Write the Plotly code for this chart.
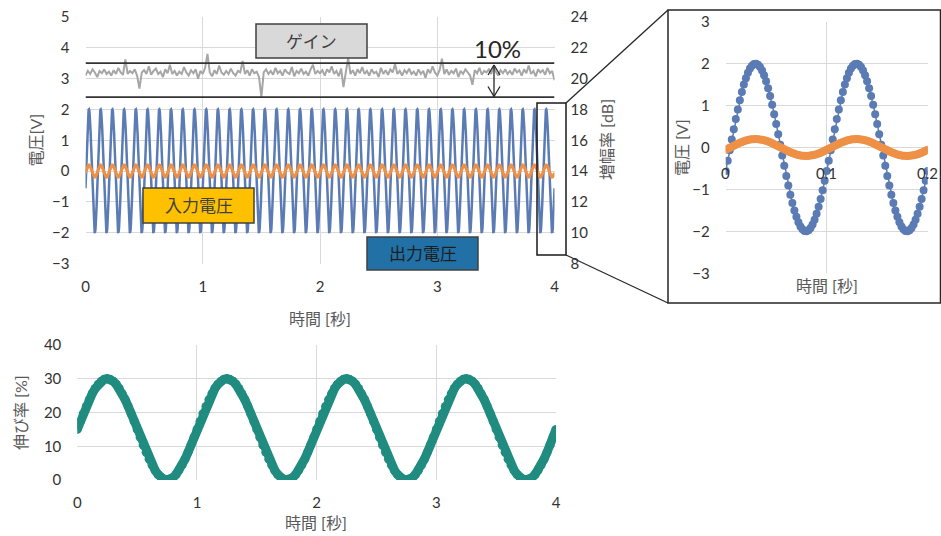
import numpy as np
import plotly.graph_objects as go

W, H = 941, 536
FONT = "Lato, 'Noto Sans CJK JP', sans-serif"
TICK_COLOR = "#333333"
TITLE_COLOR = "#595959"
GRID = "#D9D9D9"

BLUE = "#5B7BB4"
ORANGE = "#EE9046"
GRAY = "#A6A6A6"
TEAL = "#208C80"

# --- one period (0.1 s, sampled every 2 ms) of output / input voltage [V]
output_period = [
    -0.558, -0.313, -0.063, 0.188, 0.436, 0.677, 0.908, 1.124, 1.323, 1.500,
    1.654, 1.782, 1.882, 1.952, 1.991, 1.999, 1.975, 1.920, 1.835, 1.721,
    1.580, 1.414, 1.226, 1.018, 0.794, 0.558, 0.313, 0.063, -0.188, -0.436,
    -0.677, -0.908, -1.124, -1.323, -1.500, -1.654, -1.782, -1.882, -1.952, -1.991,
    -1.999, -1.975, -1.920, -1.835, -1.721, -1.580, -1.414, -1.226, -1.018, -0.794,
]
input_period = [
    -0.056, -0.031, -0.006, 0.019, 0.044, 0.068, 0.091, 0.112, 0.132, 0.150,
    0.165, 0.178, 0.188, 0.195, 0.199, 0.200, 0.198, 0.192, 0.184, 0.172,
    0.158, 0.141, 0.123, 0.102, 0.079, 0.056, 0.031, 0.006, -0.019, -0.044,
    -0.068, -0.091, -0.112, -0.132, -0.150, -0.165, -0.178, -0.188, -0.195, -0.199,
    -0.200, -0.198, -0.192, -0.184, -0.172, -0.158, -0.141, -0.123, -0.102, -0.079,
]
SAMPLE_DT = 0.002

# --- measured gain [dB], every 20 ms over 0..4 s
gain_db = [
    20.2, 20.5, 20.3, 20.6, 20.4, 20.1, 20.5, 20.35, 20.6, 20.3, 20.45, 20.2, 20.55, 20.3, 20.7, 20.4, 20.25, 21.25, 20.3, 20.5,
    20.35, 20.6, 20.2, 19.35, 20.4, 20.55, 20.3, 20.8, 20.25, 20.5, 20.65, 20.3, 20.45, 20.1, 20.6, 20.35, 20.9, 20.3, 20.5, 20.2,
    20.45, 20.3, 20.75, 20.4, 20.2, 20.55, 20.35, 20.6, 20.0, 20.5, 20.3, 20.7, 21.6, 20.4, 20.15, 20.55, 20.3, 20.85, 20.4, 20.25,
    20.5, 20.3, 20.65, 20.35, 20.2, 20.5, 20.4, 21.15, 20.3, 20.55, 20.2, 20.6, 20.35, 20.45, 20.1, 18.8, 20.4, 20.6, 20.3, 20.5,
    20.25, 20.7, 20.35, 20.5, 20.2, 20.6, 20.4, 20.3, 20.75, 20.15, 20.5, 20.35, 20.65, 20.3, 20.45, 20.2, 20.6, 20.9, 20.3, 20.5,
    20.35, 20.55, 20.2, 20.6, 20.4, 20.8, 20.3, 20.5, 20.15, 20.65, 19.45, 20.4, 21.35, 20.3, 20.55, 20.2, 20.6, 20.35, 20.75, 20.3,
    20.5, 20.2, 20.6, 20.35, 20.45, 20.1, 20.7, 20.3, 20.55, 20.25, 20.6, 20.4, 20.95, 20.3, 20.5, 20.2, 20.55, 20.35, 20.65, 20.3,
    20.45, 20.2, 20.6, 20.3, 20.5, 20.05, 20.6, 20.35, 20.8, 20.4, 20.2, 20.55, 21.3, 20.3, 20.6, 20.25, 20.5, 20.35, 20.65, 20.1,
    20.5, 20.3, 20.6, 20.4, 20.2, 19.6, 20.55, 20.35, 20.7, 20.25, 20.5, 20.4, 20.6, 20.3, 20.75, 20.45, 20.2, 20.55, 20.35, 20.6,
    20.3, 20.5, 20.25, 20.65, 20.4, 20.55, 20.2, 20.6, 20.35, 20.85, 20.3, 20.5, 20.15, 20.6, 20.4, 20.55, 20.25, 20.7, 20.35, 20.5,
    19.9,
]
GAIN_DT = 0.02

# --- one period (1 s, every 25 ms) of elongation [%]
stretch_period = [
    15.0, 17.35, 19.64, 21.81, 23.82, 25.61, 27.14, 28.37, 29.27, 29.82,
    30.0, 29.82, 29.27, 28.37, 27.14, 25.61, 23.82, 21.81, 19.64, 17.35,
    15.0, 12.65, 10.36, 8.19, 6.18, 4.39, 2.86, 1.63, 0.73, 0.18,
    0.0, 0.18, 0.73, 1.63, 2.86, 4.39, 6.18, 8.19, 10.36, 12.65,
]
STRETCH_DT = 0.025

main_x_ticks = [0, 1, 2, 3, 4]
volt_ticks = [-3, -2, -1, 0, 1, 2, 3, 4, 5]
db_ticks = [8, 10, 12, 14, 16, 18, 20, 22, 24]
zoom_x_ticks = [0, 0.1, 0.2]
zoom_x_labels = ["0", "0.1", "0.2"]
zoom_y_ticks = [-3, -2, -1, 0, 1, 2, 3]
stretch_y_ticks = [0, 10, 20, 30, 40]


def repeat(period, n):
    """Repeat one measured period n times and close with its first sample."""
    return np.array(list(period) * n + [period[0]])


out_v = repeat(output_period, 40)
in_v = repeat(input_period, 40)
t_v = np.arange(len(out_v)) * SAMPLE_DT

out_zoom = repeat(output_period, 2)
in_zoom = repeat(input_period, 2)
t_zoom = np.arange(len(out_zoom)) * SAMPLE_DT

t_gain = np.arange(len(gain_db)) * GAIN_DT

stretch = repeat(stretch_period, 4)
t_stretch = np.arange(len(stretch)) * STRETCH_DT


def px(x):
    return x / W


def py(y):
    return 1 - y / H


fig = go.Figure()

# main chart
fig.add_trace(go.Scatter(x=t_gain, y=gain_db, name="ゲイン", mode="lines",
                         line=dict(color=GRAY, width=2), xaxis="x", yaxis="y2"))
fig.add_trace(go.Scatter(x=t_v, y=out_v, name="出力電圧", mode="lines",
                         line=dict(color=BLUE, width=2.5), xaxis="x", yaxis="y"))
fig.add_trace(go.Scatter(x=t_v, y=in_v, name="入力電圧", mode="lines",
                         line=dict(color=ORANGE, width=3), xaxis="x", yaxis="y"))

# enlarged view
fig.add_trace(go.Scatter(x=t_zoom, y=out_zoom, name="出力電圧", mode="lines+markers",
                         line=dict(color=BLUE, width=1.5), marker=dict(color=BLUE, size=8),
                         xaxis="x2", yaxis="y3"))
fig.add_trace(go.Scatter(x=t_zoom, y=in_zoom, name="入力電圧", mode="lines+markers",
                         line=dict(color=ORANGE, width=1.5), marker=dict(color=ORANGE, size=8),
                         xaxis="x2", yaxis="y3"))

# elongation chart
fig.add_trace(go.Scatter(x=t_stretch, y=stretch, name="伸び率", mode="lines+markers",
                         line=dict(color=TEAL, width=9), marker=dict(color=TEAL, size=9),
                         xaxis="x3", yaxis="y4"))

axis_common = dict(showline=False, zeroline=False, showgrid=True, gridcolor=GRID, gridwidth=1,
                   ticks="", automargin=False, tickfont=dict(family=FONT, size=15, color=TICK_COLOR))

fig.update_layout(
    width=W, height=H, margin=dict(l=0, r=0, t=0, b=0, pad=0, autoexpand=False),
    paper_bgcolor="white", plot_bgcolor="white", showlegend=False,
    font=dict(family=FONT, size=15, color=TICK_COLOR),
    xaxis=dict(domain=[px(85.5), px(554.5)], range=[0, 4], tickvals=main_x_ticks,
               anchor="y", ticklabelstandoff=12, **axis_common),
    yaxis=dict(domain=[py(263.5), py(17)], range=[-3, 5], tickvals=volt_ticks,
               anchor="x", ticklabelstandoff=15, **axis_common),
    yaxis2=dict(range=[8, 24], tickvals=db_ticks, overlaying="y", side="right", anchor="x",
                ticklabelstandoff=15, **{**axis_common, "showgrid": False}),
    xaxis2=dict(domain=[px(725.7), px(927.7)], range=[0, 0.2], tickvals=zoom_x_ticks,
                showticklabels=False, anchor="y3", **axis_common),
    yaxis3=dict(domain=[py(273.3), py(21.7)], range=[-3, 3], tickvals=zoom_y_ticks,
                anchor="x2", ticklabelstandoff=15, **axis_common),
    xaxis3=dict(domain=[px(77.3), px(556)], range=[0, 4], tickvals=main_x_ticks,
                anchor="y4", ticklabelstandoff=12, **axis_common),
    yaxis4=dict(domain=[py(480), py(345)], range=[0, 40], tickvals=stretch_y_ticks,
                anchor="x3", ticklabelstandoff=15, **axis_common),
)

DARK = "#404040"
shapes = []


def rect(x0, y0, x1, y1, fill=None, color=DARK, width=1.5):
    shapes.append(dict(type="rect", xref="paper", yref="paper",
                       x0=px(x0), x1=px(x1), y0=py(y1), y1=py(y0),
                       fillcolor=fill if fill else "rgba(0,0,0,0)",
                       line=dict(color=color, width=width), layer="above"))


def seg(x0, y0, x1, y1, color="#262626", width=1.3):
    shapes.append(dict(type="line", xref="paper", yref="paper",
                       x0=px(x0), x1=px(x1), y0=py(y0), y1=py(y1),
                       line=dict(color=color, width=width)))


# band around the gain trace
for level in (21.0, 18.8):
    shapes.append(dict(type="line", xref="x", yref="y2", x0=0, x1=4, y0=level, y1=level,
                       line=dict(color="#333333", width=1.8)))

# double-headed arrow marking the band
ax_x, a_top, a_bot = 494, 65, 96.5
seg(ax_x, a_top, ax_x, a_bot, color="#262626", width=1.3)
for tip, d in ((a_top, 1), (a_bot, -1)):
    seg(ax_x - 6, tip + 10 * d, ax_x, tip, width=1.3)
    seg(ax_x + 6, tip + 10 * d, ax_x, tip, width=1.3)

# label boxes
rect(256, 24, 367, 58, fill="#D9D9D9")
rect(143, 188, 254, 223, fill="#FFC000")
rect(367, 237, 478, 270, fill="#2171A6")

# zoom window and the frame of the enlarged view
rect(537, 103, 566, 255, color="#1A1A1A", width=1.5)
seg(566, 103, 668, 10)
seg(566, 255, 668, 303)
rect(668, 10, 940.5, 303, color="#262626", width=1.5)

annotations = []


def text(x, y, s, size=16, color=TITLE_COLOR, angle=0):
    annotations.append(dict(x=px(x), y=py(y), xref="paper", yref="paper", text=s,
                            showarrow=False, textangle=angle, xanchor="center", yanchor="middle",
                            font=dict(family=FONT, size=size, color=color)))


text(311.5, 41, "ゲイン", size=17, color="#404040")
text(198.5, 205.5, "入力電圧", size=17, color="#404040")
text(422.5, 253.5, "出力電圧", size=17, color="#1E1E1E")
text(497.5, 48, "10%", size=24, color="#262626")

text(34.5, 140, "電圧[V]", angle=-90)
text(606, 140, "増幅率 [dB]", angle=-90)
text(320, 318, "時間 [秒]")
text(681.5, 147.5, "電圧 [V]", angle=-90)
text(827, 285, "時間 [秒]")
text(20, 413, "伸び率 [%]", angle=-90)
text(316, 522, "時間 [秒]")

# tick labels of the enlarged view sit on the zero line
for v, lab in zip(zoom_x_ticks, zoom_x_labels):
    annotations.append(dict(x=v, y=0, xref="x2", yref="y3", text=lab, showarrow=False,
                            xanchor="center", yanchor="top", yshift=-14,
                            font=dict(family=FONT, size=15, color=TICK_COLOR)))

fig.update_layout(shapes=shapes, annotations=annotations)
fig.write_html("out.html")
